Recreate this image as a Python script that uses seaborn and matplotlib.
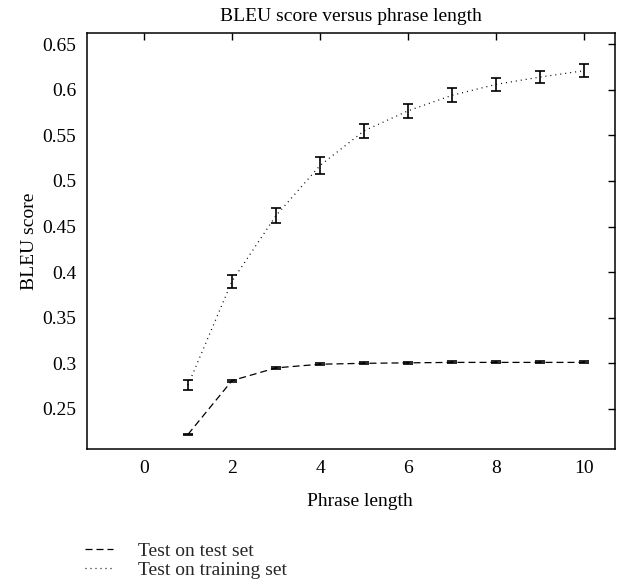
import numpy as np
import pandas as pd
import matplotlib
matplotlib.use("Agg")
import matplotlib.pyplot as plt
import seaborn as sns

phrase_length = [1, 2, 3, 4, 5, 6, 7, 8, 9, 10]
test_on_test = [0.222, 0.281, 0.295, 0.299, 0.300, 0.3005, 0.301, 0.301, 0.301, 0.301]
test_on_test_err = [0.001, 0.001, 0.0012, 0.001, 0.001, 0.001, 0.001, 0.001, 0.001, 0.001]
test_on_train = [0.276, 0.390, 0.462, 0.517, 0.555, 0.577, 0.594, 0.606, 0.614, 0.621]
test_on_train_err = [0.0055, 0.0072, 0.0083, 0.009, 0.0078, 0.0078, 0.0078, 0.0072, 0.007, 0.0072]
x_ticks = [0, 2, 4, 6, 8, 10]
y_ticks = [0.25, 0.3, 0.35, 0.4, 0.45, 0.5, 0.55, 0.6, 0.65]
y_tick_labels = ["0.25", "0.3", "0.35", "0.4", "0.45", "0.5", "0.55", "0.6", "0.65"]

df = pd.DataFrame({
    "x": phrase_length * 2,
    "y": test_on_test + test_on_train,
    "err": test_on_test_err + test_on_train_err,
    "series": ["Test on test set"] * 10 + ["Test on training set"] * 10,
})

sns.set_theme(style="white")
plt.rcParams["font.family"] = ["Liberation Serif", "DejaVu Serif"]
FS = 14

fig = plt.figure(figsize=(6.17, 5.81), dpi=100)
ax = fig.add_axes([86.7 / 617, 1 - 449 / 581, (615 - 86.7) / 617, (449 - 33.3) / 581])

styles = {"Test on test set": (0, (5.6, 3.2)), "Test on training set": (0, (0.8, 3.2))}
for name, sub in df.groupby("series", sort=False):
    sns.lineplot(data=sub, x="x", y="y", ax=ax, color="black", linewidth=0.9,
                 linestyle=styles[name], label=name, errorbar=None)
    ax.errorbar(sub["x"], sub["y"], yerr=sub["err"], fmt="none", ecolor="black",
                elinewidth=1.2, capsize=3.4, capthick=1.2)

ax.set_xlim(-1.3, 10.7)
ax.set_ylim(0.206, 0.662)
ax.set_xticks(x_ticks)
ax.set_yticks(y_ticks)
ax.set_yticklabels(y_tick_labels)
ax.tick_params(direction="in", length=5, width=1, top=True, right=True,
               labelsize=FS, colors="black")
ax.tick_params(axis="x", pad=8)
ax.tick_params(axis="y", pad=7.5)
for s in ax.spines.values():
    s.set_color("black")
    s.set_linewidth(1.1)

ax.set_title("BLEU score versus phrase length", fontsize=FS, pad=9, color="black")
ax.set_xlabel("Phrase length", fontsize=FS, color="black")
ax.set_ylabel("BLEU score", fontsize=FS, color="black")
ax.xaxis.set_label_coords(0.517, -0.106)
ax.yaxis.set_label_coords(-0.092, 0.5)

handles, labels = ax.get_legend_handles_labels()
ax.get_legend().remove()
fig.legend(handles, labels, loc="upper left", bbox_to_anchor=(85 / 617, 1 - 542 / 581),
           frameon=False, fontsize=FS, handlelength=1.45, handletextpad=1.25,
           labelspacing=0.1, borderaxespad=0, borderpad=0)

fig.savefig("out.png", dpi=100)
